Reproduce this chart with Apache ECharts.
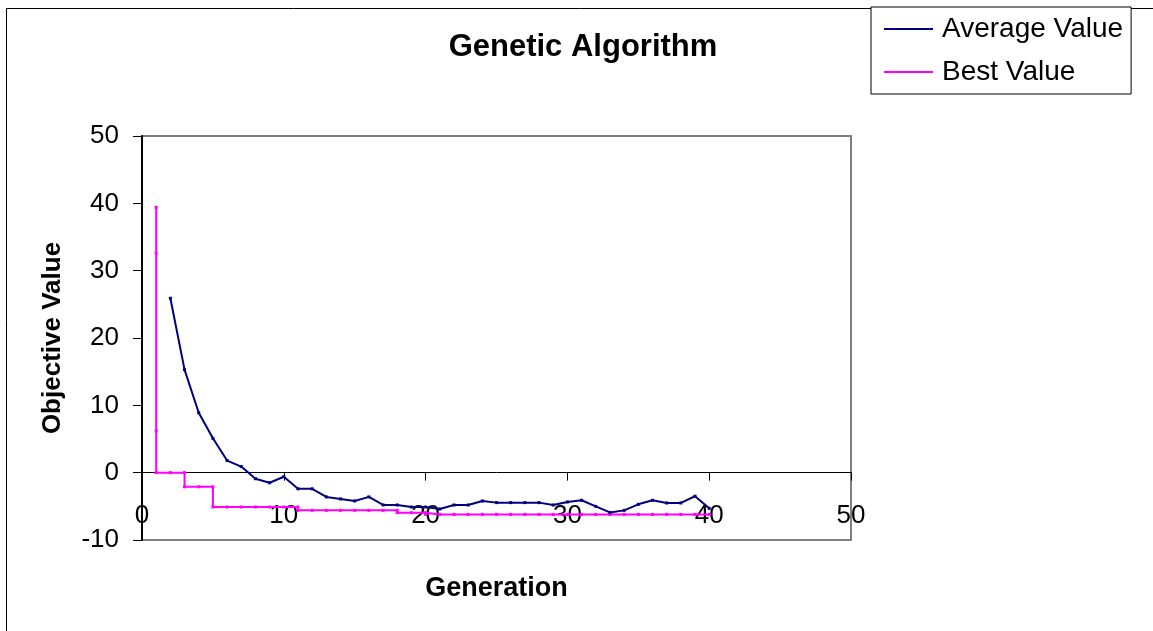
<!DOCTYPE html>
<html>
<head>
<meta charset="utf-8">
<script src="https://cdn.jsdelivr.net/npm/echarts@6/dist/echarts.min.js"></script>
<style>
html,body{margin:0;padding:0;background:#fff;}
#c{width:1153px;height:631px;}
</style>
</head>
<body>
<div id="c"></div>
<script>
// Data
const titleText = 'Genetic Algorithm';
const seriesNames = ['Average Value', 'Best Value'];
const xTicks = [0, 10, 20, 30, 40, 50];
const yTicks = [-10, 0, 10, 20, 30, 40, 50];

const avgGen = [2,3,4,5,6,7,8,9,10,11,12,13,14,15,16,17,18,19,20,21,22,23,24,25,26,27,28,29,30,31,32,33,34,35,36,37,38,39,40];
const avgVal = [25.9,15.3,8.9,5.1,1.8,0.9,-0.9,-1.5,-0.6,-2.4,-2.4,-3.6,-3.9,-4.2,-3.6,-4.8,-4.8,-5.1,-5.1,-5.4,-4.8,-4.8,-4.2,-4.45,-4.45,-4.45,-4.45,-4.8,-4.35,-4.1,-5.0,-5.9,-5.6,-4.7,-4.1,-4.5,-4.5,-3.5,-5.3];

const bestGen = [1,1,1,1,2,3,3,4,5,5,6,7,8,9,10,11,11,12,13,14,15,16,17,18,18,19,20,20,21,22,23,24,25,26,27,28,29,30,31,32,33,34,35,36,37,38,39,40];
const bestVal = [39.4,32.6,6.2,0,0,0,-2.1,-2.1,-2.1,-5.1,-5.1,-5.1,-5.1,-5.1,-5.1,-5.1,-5.6,-5.6,-5.6,-5.6,-5.6,-5.6,-5.6,-5.6,-5.95,-5.95,-5.95,-6.2,-6.2,-6.2,-6.2,-6.2,-6.2,-6.2,-6.2,-6.2,-6.2,-6.2,-6.2,-6.2,-6.2,-6.2,-6.2,-6.2,-6.2,-6.2,-6.2,-6.2];

const pairs = (xs, ys) => xs.map((x, i) => [x, ys[i]]);
const FONT = '"Liberation Sans", Arial, sans-serif';

const chart = echarts.init(document.getElementById('c'), null, {renderer: 'canvas'});
chart.setOption({
  animation: false,
  backgroundColor: '#fff',
  textStyle: {fontFamily: FONT},
  title: {
    text: titleText,
    left: 583, textAlign: 'center', top: 32, padding: 0,
    textStyle: {fontFamily: FONT, fontSize: 31, fontWeight: 'bold', color: '#000'}
  },
  graphic: [{
    type: 'rect', left: 4, top: 6, z: -10, silent: true,
    shape: {width: 1300, height: 800},
    style: {fill: 'none', stroke: '#000', lineWidth: 1}
  }],
  legend: {
    orient: 'vertical', left: 871, top: 7,
    padding: [8, 8, 8, 13], itemGap: 15,
    itemWidth: 49, itemHeight: 2,
    icon: 'rect',
    backgroundColor: '#fff', borderColor: '#000', borderWidth: 1,
    textStyle: {fontFamily: FONT, fontSize: 28, color: '#000', padding: [0, 0, 0, 4]},
    data: seriesNames
  },
  grid: {
    left: 142, top: 136, right: 302, bottom: 91,
    outerBoundsMode: 'none', containLabel: false,
    show: true, borderColor: '#808080', borderWidth: 2, backgroundColor: '#fff'
  },
  xAxis: {
    type: 'value', min: xTicks[0], max: xTicks[xTicks.length - 1], interval: 10,
    name: 'Generation', nameLocation: 'middle', nameGap: 35,
    nameTextStyle: {fontFamily: FONT, fontSize: 27, fontWeight: 'bold', color: '#000'},
    axisLine: {onZero: true, lineStyle: {color: '#000', width: 1}},
    axisTick: {show: true, length: 8, lineStyle: {color: '#000'}},
    axisLabel: {margin: -37, fontFamily: FONT, fontSize: 26, color: '#000'},
    splitLine: {show: false}
  },
  yAxis: {
    type: 'value', min: yTicks[0], max: yTicks[yTicks.length - 1], interval: 10,
    name: 'Objective Value', nameLocation: 'middle', nameGap: 76, nameRotate: 90,
    nameTextStyle: {fontFamily: FONT, fontSize: 26, fontWeight: 'bold', color: '#000'},
    axisLine: {show: true, lineStyle: {color: '#000', width: 2}},
    axisTick: {show: true, length: 9, lineStyle: {color: '#000'}},
    axisLabel: {margin: 23, fontFamily: FONT, fontSize: 26, color: '#000'},
    splitLine: {show: false}
  },
  series: [
    {
      name: seriesNames[0], type: 'line',
      data: pairs(avgGen, avgVal),
      color: '#000080',
      lineStyle: {color: '#000080', width: 2},
      symbol: 'rect', symbolSize: 3, showSymbol: true,
      itemStyle: {color: '#000080'},
      z: 3
    },
    {
      name: seriesNames[1], type: 'line',
      data: pairs(bestGen, bestVal),
      color: '#ff00ff',
      lineStyle: {color: '#ff00ff', width: 2},
      symbol: 'rect', symbolSize: 3, showSymbol: true,
      itemStyle: {color: '#ff00ff'},
      z: 2
    }
  ]
});
</script>
</body>
</html>
